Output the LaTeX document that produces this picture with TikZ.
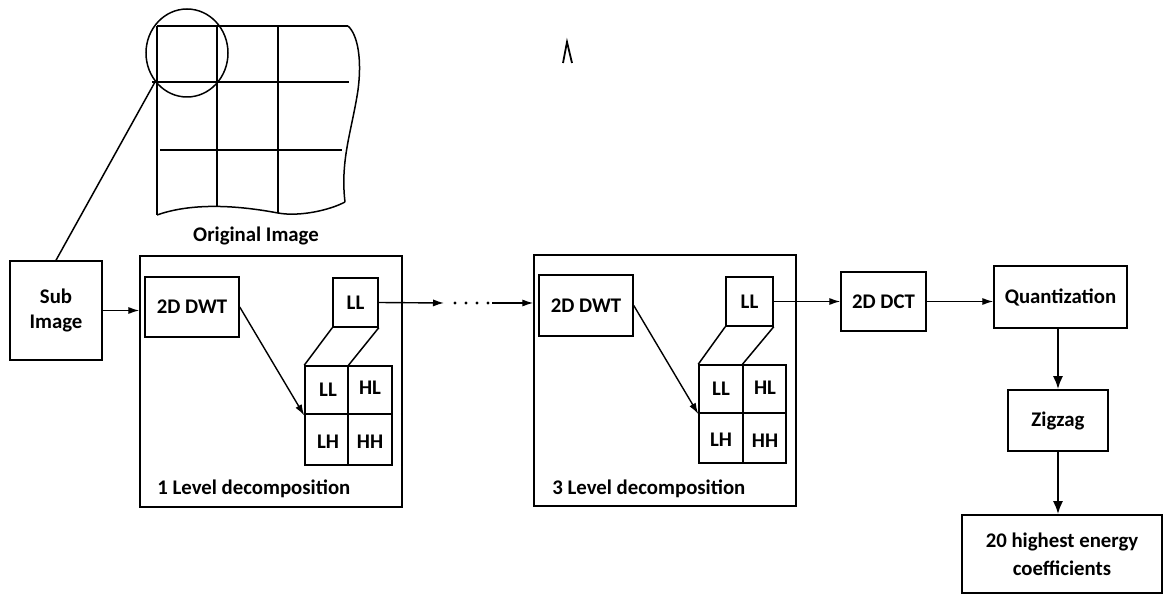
\documentclass[tikz,border=0pt]{standalone}
\usepackage{fontspec}
\setmainfont{Carlito}
\usetikzlibrary{arrows.meta}
\begin{document}
\begin{tikzpicture}[x=0.5pt,y=-0.5pt,
  every node/.style={font=\bfseries\fontsize{10.4}{12.8}\selectfont, inner sep=0pt},
  box/.style={draw, line width=0.75pt, align=center},
  ln/.style={line width=0.75pt},
  arr/.style={line width=0.7pt, -{Latex[length=5.5pt,width=3.6pt]}},
  varr/.style={line width=1.1pt, -{Latex[length=6.5pt,width=5pt]}}]
\useasboundingbox (0,0) rectangle (1164,604);
% original image
\draw[ln] (157,26) -- (348,26);
\draw[ln] (152,82) -- (349,82);
\draw[ln] (160,150) -- (342,150);
\draw[ln] (157,26) -- (157,215);
\draw[ln] (217,26) -- (217,207);
\draw[ln] (278,26) -- (278,213);
\draw[ln] (348,26) .. controls (358,35) and (362,60) .. (358,90) .. controls (352,130) and (340,160) .. (345,202);
\draw[ln] (157,215) .. controls (185,205) and (225,203) .. (278,213) .. controls (300,217) and (330,210) .. (345,202);
\draw[ln] (187,53) circle[x radius=41, y radius=44];
\node (orig) at (256,236) {Original Image};
\coordinate (g) at (155,82);
% stray mark
\draw[line width=0.9pt] (563,63) -- (567,42) -- (572,63);
% sub image
\node[box, minimum width=46pt, minimum height=49.5pt] (sub) at (56,310.5) {Sub\\Image};
\draw[ln] (g) -- (sub.north);
% level 1
\node[box, minimum width=131pt, minimum height=125.5pt] (lvl1) at (271,381.5) {};
\node[box, minimum width=47pt, minimum height=30pt] (dwt1) at (192,307) {2D DWT};
\node[box, minimum width=22.5pt, minimum height=24.5pt] (ll1) at (355.5,302.5) {LL};
\node[box, minimum width=43.5pt, minimum height=49.5pt] (q1) at (348.5,415.5) {};
\draw[ln] (348,366) -- (348,466);
\draw[ln] (305,414) -- (393,414);
\node (q1a) at (328,390) {LL};
\node (q1b) at (370,388) {HL};
\node (q1c) at (328,442) {LH};
\node (q1d) at (370,442) {HH};
\draw[ln] (ll1.south west) -- (q1.north west);
\draw[ln] (ll1.south east) -- (q1.north);
\draw[arr] (dwt1.east) -- (q1.west);
\node[anchor=west] (lab1) at (157,489) {1 Level decomposition};
\draw[arr] (sub.east) -- (sub.east -| lvl1.west);
% dots
\coordinate (dA) at (444,303);
\coordinate (dB) at (492,303);
\draw[arr] (ll1.east) -- (dA);
\foreach \x in {455,466,477,488} \fill (\x,303) circle (1.6);
% level 3
\node[box, minimum width=131pt, minimum height=125.5pt] (lvl3) at (665,380.5) {};
\draw[arr] (dB) -- (dB -| lvl3.west);
\node[box, minimum width=47pt, minimum height=30.5pt] (dwt3) at (586,305.5) {2D DWT};
\node[box, minimum width=23.5pt, minimum height=24.5pt] (ll3) at (749.5,301.5) {LL};
\node[box, minimum width=43.5pt, minimum height=49pt] (q3) at (742.5,414) {};
\draw[ln] (743,365) -- (743,464);
\draw[ln] (699,413) -- (787,413);
\node (q3a) at (721,389) {LL};
\node (q3b) at (765,388) {HL};
\node (q3c) at (721,440) {LH};
\node (q3d) at (765,441) {HH};
\draw[ln] (ll3.south west) -- (q3.north west);
\draw[ln] (ll3.south east) -- (q3.north);
\draw[arr] (dwt3.east) -- (q3.west);
\node[anchor=west] (lab3) at (552,489) {3 Level decomposition};
% right chain
\node[box, minimum width=42.5pt, minimum height=29.5pt] (dct) at (883.5,301.5) {2D DCT};
\draw[arr] (ll3.east) -- (ll3.east -| dct.west);
\node[box, minimum width=66.5pt, minimum height=31pt] (quant) at (1060.5,297) {Quantization};
\draw[arr] (dct.east) -- (dct.east -| quant.west);
\node[box, minimum width=50pt, minimum height=30.5pt] (zig) at (1058,420.5) {Zigzag};
\draw[varr] (zig.north |- quant.south) -- (zig.north);
\node[box, minimum width=100pt, minimum height=39pt] (top) at (1062,554) {20 highest energy\\[1.2pt]coefficients};
\draw[varr] (zig.south) -- (zig.south |- top.north);
\end{tikzpicture}
\end{document}
